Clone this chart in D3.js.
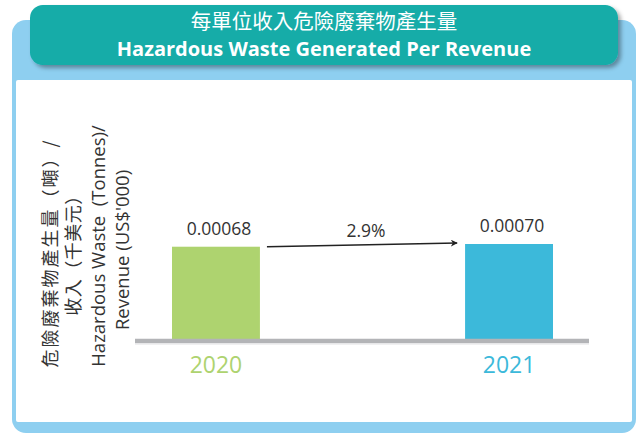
<!DOCTYPE html>
<html><head><meta charset="utf-8">
<script src="https://cdn.jsdelivr.net/npm/d3@7"></script>
<style>
html,body{margin:0;padding:0;background:#fff;}
svg{display:block;}
</style></head>
<body>
<svg id="chart" width="636" height="434"></svg>
<script>
const titleZh = "每單位收入危險廢棄物產生量";
const titleEn = "Hazardous Waste Generated Per Revenue";
const yTitleLines = ["危險廢棄物產生量（噸）/", "收入（千美元）", "Hazardous Waste  (Tonnes)/", "Revenue (US$'000)"];
const years = ["2020", "2021"];
const values = [0.00068, 0.00070];
const valueLabels = ["0.00068", "0.00070"];
const changeLabel = "2.9%";
const colors = ["#aed36f", "#3cb9da"];

const svg = d3.select("#chart");
const defs = svg.append("defs");
const f = defs.append("filter").attr("id","sh").attr("x","-10%").attr("y","-20%").attr("width","130%").attr("height","160%");
f.append("feDropShadow").attr("dx",3).attr("dy",3).attr("stdDeviation",2.2).attr("flood-color","#000").attr("flood-opacity",0.35);
const m = defs.append("marker").attr("id","arr").attr("viewBox","0 0 10 10").attr("refX",9).attr("refY",5)
  .attr("markerWidth",7).attr("markerHeight",7).attr("markerUnits","userSpaceOnUse").attr("orient","auto");
m.append("path").attr("d","M0,0 L10,5 L0,10 L3,5 Z").attr("fill","#222");

// frame
svg.append("rect").attr("x",12).attr("y",20).attr("width",624).attr("height",413).attr("rx",14).attr("fill","#8ecff0");
svg.append("rect").attr("x",16).attr("y",80).attr("width",616).attr("height",342).attr("rx",2).attr("fill","#fff");

// header
svg.append("rect").attr("x",30).attr("y",5).attr("width",588).attr("height",60).attr("rx",13)
  .attr("fill","#12aca8").attr("filter","url(#sh)");
svg.append("text").attr("x",324).attr("y",29).attr("text-anchor","middle")
  .attr("font-family","'Noto Sans CJK TC','Noto Sans CJK SC',sans-serif").attr("font-size",20.5).attr("fill","#fff")
  .text(titleZh);
svg.append("text").attr("x",324).attr("y",56).attr("text-anchor","middle")
  .attr("font-family","'Open Sans',sans-serif").attr("font-weight","bold").attr("font-size",20).attr("fill","#fff")
  .text(titleEn);

// scales
const x = d3.scaleBand().domain(years).range([172, 553]).paddingInner(0.7).paddingOuter(0);
const y = d3.scaleLinear().domain([0, 0.001]).range([339, 339 - 0.001 * 95 / 0.0007]);

// bars
svg.selectAll("rect.bar").data(years).join("rect").attr("class","bar")
  .attr("x", d => x(d)).attr("width", x.bandwidth())
  .attr("y", (d,i) => y(values[i])).attr("height", (d,i) => y(0) - y(values[i]))
  .attr("fill", (d,i) => colors[i]);

// baseline
const [r0, r1] = x.range();
svg.append("line").attr("x1", r0 - 37).attr("x2", r1 + 36).attr("y1", y(0) + 2).attr("y2", y(0) + 2)
  .attr("stroke","#b3b4b7").attr("stroke-width",4.5);
svg.append("line").attr("x1", r0 - 37).attr("x2", r1 + 36).attr("y1", y(0) + 5).attr("y2", y(0) + 5)
  .attr("stroke","#e2e2e4").attr("stroke-width",1);

// year axis
const ax = svg.append("g").attr("transform", `translate(0,${y(0) + 10})`)
  .call(d3.axisBottom(x).tickSize(0).tickPadding(0));
ax.select(".domain").remove();
ax.selectAll("text").attr("font-family","'Open Sans',sans-serif").attr("font-size",23)
  .attr("dy", null).attr("y", 24)
  .attr("fill", (d,i) => colors[i]);

// value labels
svg.selectAll("text.val").data(years).join("text").attr("class","val")
  .attr("x", d => x(d) + x.bandwidth()/2 + 3)
  .attr("y", (d,i) => y(values[i]) - 12)
  .attr("text-anchor","middle").attr("font-family","'Open Sans',sans-serif").attr("font-size",17.5)
  .attr("fill","#333").text((d,i) => valueLabels[i]);

// arrow
const ax1 = x(years[0]) + x.bandwidth() + 7, ay1 = y(values[0]);
const ax2 = x(years[1]) - 8, ay2 = y(values[1]) - 1;
svg.append("line").attr("x1",ax1).attr("y1",ay1).attr("x2",ax2).attr("y2",ay2)
  .attr("stroke","#222").attr("stroke-width",1.5).attr("marker-end","url(#arr)");
svg.append("text").attr("x",(ax1+ax2)/2 + 4).attr("y",(ay1+ay2)/2 - 8).attr("text-anchor","middle")
  .attr("font-family","'Open Sans',sans-serif").attr("font-size",17.5).attr("fill","#333").text(changeLabel);

// y title
const yt = svg.append("g");
const lineX = [49, 72, 97, 121];
const lineY = [253, 251, 246, 250];
const spacing = [2, 0.5, 0, 0];
yTitleLines.forEach((t, i) => {
  const isZh = i < 2;
  yt.append("text").attr("transform", `translate(${lineX[i]},${lineY[i]}) rotate(-90)`)
    .attr("text-anchor","middle").attr("dominant-baseline","central")
    .attr("font-family", isZh ? "'Noto Sans CJK TC',sans-serif" : "'Open Sans',sans-serif")
    .attr("font-size", isZh ? 18 : 18.5).attr("letter-spacing", spacing[i])
    .style("white-space","pre")
    .attr("fill","#333").text(t);
});
</script>
</body></html>
